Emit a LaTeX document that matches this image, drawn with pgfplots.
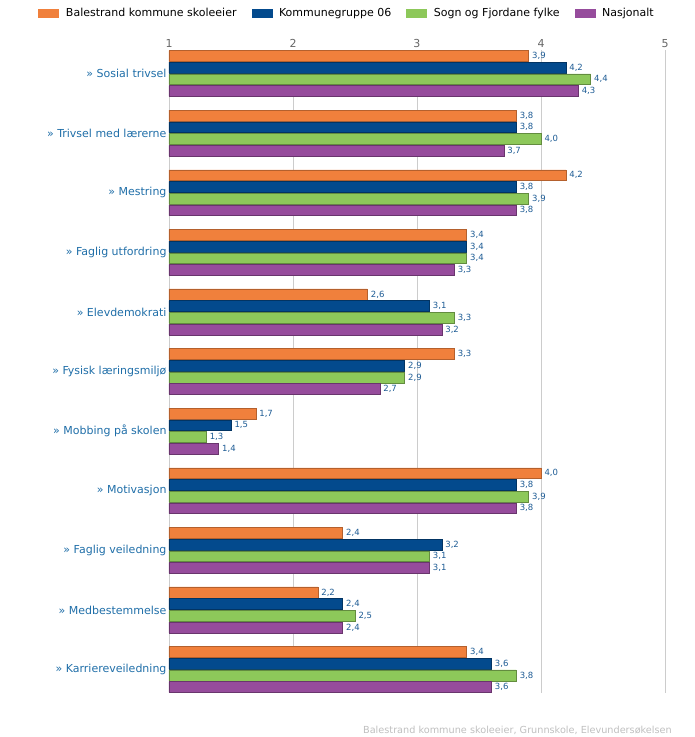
\documentclass[border=0pt]{standalone}
\usepackage{pgfplots}
\usepackage{pgfplotstable}
\pgfplotsset{compat=1.18}
\usepackage{fontspec}
\setmainfont{DejaVu Sans}
\definecolor{cOr}{HTML}{F0803C}
\definecolor{cBl}{HTML}{034A8D}
\definecolor{cGr}{HTML}{8DC85A}
\definecolor{cPu}{HTML}{964C9C}
\definecolor{cat}{HTML}{1F6EA8}
\definecolor{val}{HTML}{1D5B94}
\pgfplotstableread{
y a b c d
0 3.9 4.2 4.4 4.3
1 3.8 3.8 4.0 3.7
2 4.2 3.8 3.9 3.8
3 3.4 3.4 3.4 3.3
4 2.6 3.1 3.3 3.2
5 3.3 2.9 2.9 2.7
6 1.7 1.5 1.3 1.4
7 4.0 3.8 3.9 3.8
8 2.4 3.2 3.1 3.1
9 2.2 2.4 2.5 2.4
10 3.4 3.6 3.8 3.6
}\data
\begin{document}
\begin{tikzpicture}
\useasboundingbox (0,0) rectangle (695pt,-737pt);
\begin{axis}[
  at={(169pt,-50pt)}, anchor=north west,
  scale only axis, width=496pt, height=643pt,
  xmin=1, xmax=5, ymin=-0.394, ymax=10.394, y dir=reverse,
  xbar, bar width=10.8pt,
  xtick={1,2,3,4,5}, xticklabel pos=upper,
  major tick length=0pt,
  xmajorgrids, grid style={draw=black!20, line width=0.8pt},
  axis line style={draw=none},
  ytick={0,...,10},
  yticklabels={{» Sosial trivsel},{» Trivsel med lærerne},{» Mestring},{» Faglig utfordring},{» Elevdemokrati},{» Fysisk læringsmiljø},{» Mobbing på skolen},{» Motivasjon},{» Faglig veiledning},{» Medbestemmelse},{» Karriereveiledning}},
  yticklabel style={text=cat, font=\fontsize{11}{13}\selectfont, xshift=1pt},
  xticklabel style={text=black!60, font=\fontsize{11}{13}\selectfont, yshift=-1pt},
  /pgf/number format/assume math mode=true,
  nodes near coords,
  every node near coord/.append style={text=val, font=\fontsize{8.5}{10}\selectfont, /pgf/number format/.cd, fixed, fixed zerofill, precision=1, use comma},
  legend columns=4,
  legend style={draw=none, fill=none, at={(0.359,1.0575)}, anchor=center, font=\fontsize{11}{13}\selectfont, /tikz/every odd column/.append style={column sep=4.5pt}, /tikz/every even column/.append style={column sep=13pt}},
  legend image code/.code={\fill[#1, draw=none] (0pt,-4.5pt) rectangle (21pt,4.5pt);},
]
\addplot[fill=cOr, draw=cOr!75!black, line width=0.5pt, bar shift=17.55pt] table[x=a,y=y] \data;
\addplot[fill=cBl, draw=cBl!70!black, line width=0.5pt, bar shift=5.85pt] table[x=b,y=y] \data;
\addplot[fill=cGr, draw=cGr!70!black, line width=0.5pt, bar shift=-5.85pt] table[x=c,y=y] \data;
\addplot[fill=cPu, draw=cPu!70!black, line width=0.5pt, bar shift=-17.55pt] table[x=d,y=y] \data;
\legend{Balestrand kommune skoleeier, Kommunegruppe 06, Sogn og Fjordane fylke, Nasjonalt}
\end{axis}
\node[anchor=east, text=black!25, font=\fontsize{9.7}{11}\selectfont, inner sep=0pt] at (672pt,-730pt) {Balestrand kommune skoleeier, Grunnskole, Elevundersøkelsen};
\end{tikzpicture}
\end{document}
